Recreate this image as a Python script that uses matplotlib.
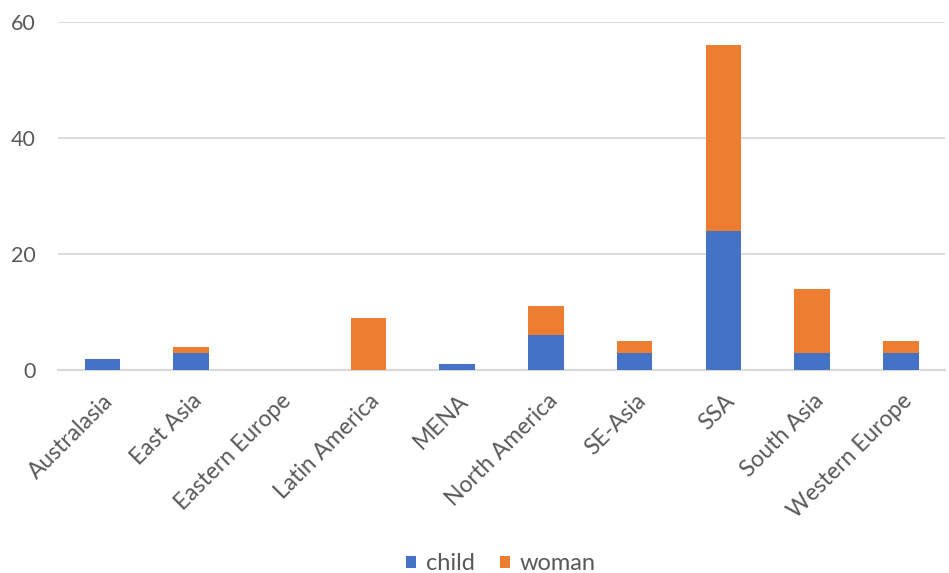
import matplotlib
matplotlib.use("Agg")
import matplotlib.pyplot as plt
import matplotlib.transforms as mtransforms
import numpy as np

categories = ["Australasia", "East Asia", "Eastern Europe", "Latin America", "MENA",
              "North America", "SE-Asia", "SSA", "South Asia", "Western Europe"]
child = [2, 3, 0, 0, 1, 6, 3, 24, 3, 3]
woman = [0, 1, 0, 9, 0, 5, 2, 32, 11, 2]

plt.rcParams['font.family'] = ['Lato', 'DejaVu Sans']
fig = plt.figure(figsize=(9.49, 5.73), dpi=100)
ax = fig.add_axes([0.061, 0.354, 0.935, 0.6076])

x = np.arange(len(categories))
ax.bar(x, child, width=0.4, color="#4472C4", label="child", zorder=3)
ax.bar(x, woman, width=0.4, bottom=child, color="#ED7D31", label="woman", zorder=3)

ax.set_xlim(-0.5, len(categories) - 0.5)
ax.set_ylim(0, 60)
ax.set_yticks([0, 20, 40, 60])
ax.yaxis.grid(True, color="#D9D9D9", linewidth=1.3, zorder=0)
ax.set_axisbelow(True)
for s in ["top", "right", "left"]:
    ax.spines[s].set_visible(False)
ax.spines["bottom"].set_color("#D9D9D9")
ax.spines["bottom"].set_linewidth(1.6)
ax.tick_params(axis="both", length=0, colors="#595959")
ax.tick_params(axis="y", pad=16, labelsize=15.5)
ax.tick_params(axis="x", pad=22, labelsize=16.5)
ax.set_xticks(x)
ax.set_xticklabels(categories, rotation=45, ha="right", va="center", rotation_mode="anchor")
offset = mtransforms.ScaledTranslation(0.08, 0.03, fig.dpi_scale_trans)
for lbl in ax.get_xticklabels():
    lbl.set_transform(lbl.get_transform() + offset)

fig.legend(loc="center", ncol=2, frameon=False, fontsize=17,
           bbox_to_anchor=(501 / 949, 0.016), handlelength=0.42, handleheight=0.42,
           columnspacing=1.1, handletextpad=0.4, labelcolor="#595959")

fig.savefig("out.png", dpi=100)
